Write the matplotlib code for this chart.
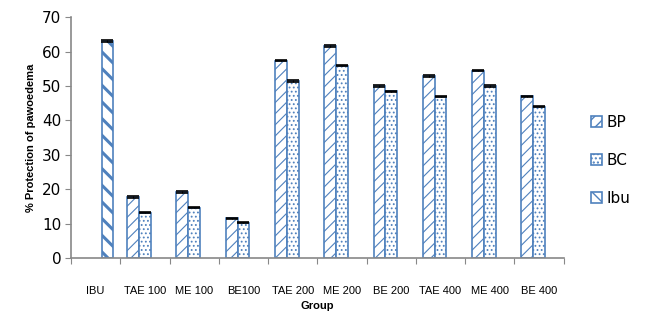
import numpy as np
import matplotlib
matplotlib.use("Agg")
import matplotlib.pyplot as plt

groups = ["IBU", "TAE 100", "ME 100", "BE100", "TAE 200", "ME 200",
          "BE 200", "TAE 400", "ME 400", "BE 400"]
bp = [0, 17.8, 19.2, 11.6, 57.4, 61.7, 50.0, 52.9, 54.5, 47.0]
bc = [0, 13.2, 14.7, 10.3, 51.5, 55.9, 48.5, 46.9, 50.0, 44.0]
ibu = [63.1, 0, 0, 0, 0, 0, 0, 0, 0, 0]
err = 0.2

blue = "#4F81BD"

fig = plt.figure(figsize=(6.45, 3.14), dpi=100)
ax = fig.add_axes([0.110, 0.178, 0.764, 0.767])

x = np.arange(len(groups))
w = 0.24

# name, values, offset, hatch, hatch line width
series = [
    ("BP", bp, -w, "///", 0.8),
    ("BC", bc, 0.0, "....", 0.8),
    ("Ibu", ibu, w, "\\\\", 2.2),
]
handles = []
for name, vals, off, hatch, hlw in series:
    vals = np.array(vals, dtype=float)
    mask = vals > 0
    with plt.rc_context({"hatch.linewidth": hlw}):
        h = ax.bar(x[mask] + off, vals[mask], width=w, color="white",
                   edgecolor=blue, hatch=hatch, linewidth=1.2, label=name)
    ax.errorbar(x[mask] + off, vals[mask], yerr=err, fmt="none",
                ecolor="black", elinewidth=0.8, capsize=4, capthick=1.2)
    handles.append(h)

ax.set_xlim(-0.5, len(groups) - 0.5)
ax.set_ylim(0, 70)
ax.set_yticks(range(0, 71, 10))

ax.set_xticks(np.arange(len(groups) + 1) - 0.5)
ax.set_xticklabels([])
ax.set_xticks(x, minor=True)
ax.set_xticklabels(groups, minor=True,
                   family=["Liberation Sans Narrow", "Liberation Sans"],
                   fontsize=8)
ax.tick_params(axis="x", which="minor", length=0, pad=20)
ax.tick_params(axis="x", which="major", length=4, color="#888888")
ax.tick_params(axis="y", length=4, color="#888888", labelsize=11, pad=3)

for s in ["top", "right"]:
    ax.spines[s].set_visible(False)
for s in ["left", "bottom"]:
    ax.spines[s].set_color("#888888")
    ax.spines[s].set_linewidth(1.2)

ax.set_xlabel("Group", fontsize=8, fontweight="bold",
              family="Liberation Sans", labelpad=4)
ax.set_ylabel("% Protection of pawoedema", fontsize=8, fontweight="bold",
              family="Liberation Sans", labelpad=4)

fig.legend(handles=handles, loc="center left",
           bbox_to_anchor=(0.895, 0.49), frameon=False, fontsize=11,
           handlelength=0.7, handleheight=0.7, handletextpad=0.3,
           labelspacing=1.5)

fig.savefig("out.png", dpi=100)
